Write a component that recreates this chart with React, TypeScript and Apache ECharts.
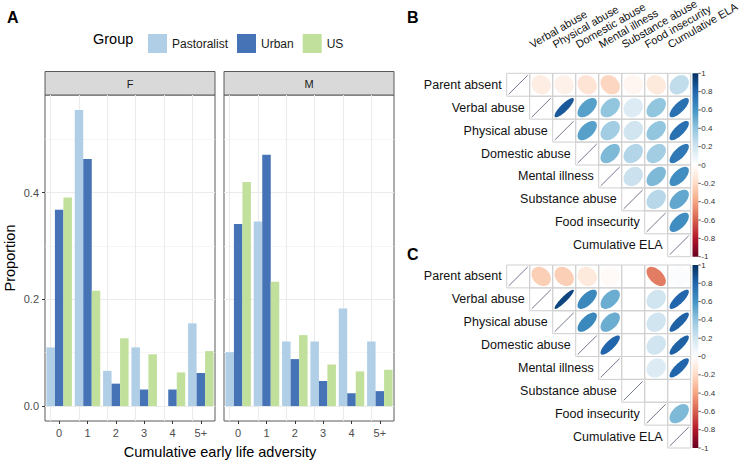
import React, { useEffect, useRef } from 'react';
import * as echarts from 'echarts';

const FONT = '"Liberation Sans", Arial, Helvetica, sans-serif';

// ---------- Panel A data ----------
const categories = ['0', '1', '2', '3', '4', '5+'];
const groups = ['Pastoralist', 'Urban', 'US'];
const groupColors = ['#b0cfe6', '#4673b5', '#c1e09c'];
const femalePastoralist = [0.110, 0.555, 0.066, 0.110, 0.0, 0.155];
const femaleUrban = [0.368, 0.463, 0.042, 0.031, 0.031, 0.062];
const femaleUS = [0.391, 0.216, 0.127, 0.097, 0.063, 0.103];
const malePastoralist = [0.101, 0.346, 0.121, 0.121, 0.183, 0.121];
const maleUrban = [0.341, 0.471, 0.088, 0.047, 0.024, 0.028];
const maleUS = [0.420, 0.233, 0.133, 0.078, 0.065, 0.068];
const yTicks = [0, 0.2, 0.4];
const yMinorTicks = [0.1, 0.3, 0.5];
const facetLabels = ['F', 'M'];

// ---------- Panels B / C data ----------
const variables = [
  'Parent absent', 'Verbal abuse', 'Physical abuse', 'Domestic abuse',
  'Mental illness', 'Substance abuse', 'Food insecurity', 'Cumulative ELA',
];
// upper triangle rows (values right of the diagonal)
const corrB: (number | null)[][] = [
  [-0.10, -0.08, -0.15, -0.22, -0.05, -0.12, 0.25],
  [0.85, 0.55, 0.40, 0.15, 0.40, 0.75],
  [0.55, 0.35, 0.20, 0.40, 0.75],
  [0.45, 0.30, 0.35, 0.72],
  [0.22, 0.45, 0.62],
  [0.28, 0.52],
  [0.62],
];
const corrC: (number | null)[][] = [
  [-0.25, -0.25, -0.12, -0.03, null, -0.52, 0.02],
  [0.92, 0.65, 0.50, null, 0.20, 0.80],
  [0.65, 0.50, null, 0.20, 0.82],
  [0.80, null, 0.20, 0.82],
  [null, 0.15, 0.80],
  [null, null],
  [0.45],
];
const colorbarTicks = [1, 0.8, 0.6, 0.4, 0.2, 0, -0.2, -0.4, -0.6, -0.8, -1];
const rdbu = ['#67001F', '#B2182B', '#D6604D', '#F4A582', '#FDDBC7', '#FFFFFF',
  '#D1E5F0', '#92C5DE', '#4393C3', '#2166AC', '#053061'];

const CORR_LEFT = 506.7;
const CORR_W = 184;
const B_TOP = 73.3;
const B_H = 183.4;
const C_TOP = 265;
const C_H = 183;

function hexToRgb(h: string) {
  const n = parseInt(h.slice(1), 16);
  return [(n >> 16) & 255, (n >> 8) & 255, n & 255];
}
function rdbuColor(v: number) {
  const t = Math.max(0, Math.min(1, (v + 1) / 2)) * (rdbu.length - 1);
  const i = Math.min(Math.floor(t), rdbu.length - 2);
  const f = t - i;
  const a = hexToRgb(rdbu[i]);
  const b = hexToRgb(rdbu[i + 1]);
  const c = a.map((x, k) => Math.round(x + (b[k] - x) * f));
  return `rgb(${c[0]},${c[1]},${c[2]})`;
}

function buildCorrData(rows: (number | null)[][]) {
  const data: number[][] = [];
  for (let r = 0; r < variables.length; r++) {
    data.push([r, r, 0, 0, 1]);
    const vals = rows[r] || [];
    vals.forEach((v, k) => {
      data.push([r + 1 + k, r, v === null ? 0 : v, v === null ? 0 : 1, 0]);
    });
  }
  return data;
}

const renderCorr = (params: any, api: any) => {
  const col = api.value(0);
  const row = api.value(1);
  const v = api.value(2);
  const has = api.value(3);
  const diag = api.value(4);
  const c = api.coord([col, row]);
  const s = api.size([1, 1]);
  const w = s[0];
  const h = s[1];
  const x0 = c[0] - w / 2;
  const y0 = c[1] - h / 2;
  const children: any[] = [];
  children.push({
    type: 'rect',
    shape: { x: x0, y: y0, width: w, height: h },
    style: { fill: 'none', stroke: '#cfcfcf', lineWidth: 1 },
  });
  if (diag) {
    children.push({
      type: 'line',
      shape: { x1: x0 + 2, y1: y0 + h - 2, x2: x0 + w - 2, y2: y0 + 2 },
      style: { stroke: '#4f5670', lineWidth: 0.8 },
    });
    children.push({
      type: 'text',
      x: x0 - 5,
      y: c[1],
      style: {
        text: variables[row], fill: '#111', font: `12.5px ${FONT}`,
        textAlign: 'right', textVerticalAlign: 'middle',
      },
    });
  } else if (has) {
    const d = Math.acos(Math.max(-1, Math.min(1, v)));
    const pts: number[][] = [];
    for (let k = 0; k < 72; k++) {
      const t = (2 * Math.PI * k) / 72;
      const ex = Math.cos(t + d / 2) * 0.42;
      const ey = Math.cos(t - d / 2) * 0.42;
      pts.push([c[0] + ex * w, c[1] - ey * h]);
    }
    children.push({
      type: 'polygon',
      shape: { points: pts },
      style: { fill: rdbuColor(v), stroke: 'none' },
    });
  }
  return { type: 'group', children };
};

function colorbar(top: number, height: number) {
  const x = 692.5;
  const w = 5.8;
  const els: any[] = [];
  els.push({
    type: 'rect',
    shape: { x, y: top, width: w, height },
    style: {
      fill: new echarts.graphic.LinearGradient(0, 0, 0, 1,
        rdbu.slice().reverse().map((col, i) => ({ offset: i / (rdbu.length - 1), color: col }))),
    },
  });
  colorbarTicks.forEach((v) => {
    const y = top + ((1 - v) / 2) * height;
    els.push({
      type: 'line',
      shape: { x1: x + w, y1: y, x2: x + w + 2.5, y2: y },
      style: { stroke: '#333', lineWidth: 0.8 },
    });
    els.push({
      type: 'text',
      x: x + w + 3,
      y,
      style: {
        text: String(v), fill: '#333', font: `8px ${FONT}`,
        textAlign: 'left', textVerticalAlign: 'middle',
      },
    });
  });
  return els;
}

function gridMarkLine() {
  const major = { color: '#ebebeb', width: 1.1, type: 'solid' };
  const minor = { color: '#f2f2f2', width: 0.7, type: 'solid' };
  return {
    silent: true,
    symbol: 'none',
    z: 1,
    animation: false,
    label: { show: false },
    emphasis: { disabled: true },
    data: [
      ...yMinorTicks.map((v) => ({ yAxis: v, lineStyle: minor })),
      ...yTicks.map((v) => ({ yAxis: v, lineStyle: major })),
      ...categories.map((c) => ({ xAxis: c, lineStyle: major })),
    ],
  };
}

export default function App() {
  const ref = useRef<HTMLDivElement>(null);
  useEffect(() => {
    if (!ref.current) return;
    const chart = echarts.init(ref.current, undefined, { renderer: 'svg' });
    const panels = [
      { left: 45, data: [femalePastoralist, femaleUrban, femaleUS] },
      { left: 224, data: [malePastoralist, maleUrban, maleUS] },
    ];
    const panelTop = 95;
    const panelH = 326;
    const panelW = 170;

    const grids: any[] = panels.map((p) => ({
      left: p.left, top: panelTop, width: panelW, height: panelH,
      show: true, borderColor: '#5a5a5a', borderWidth: 1, backgroundColor: '#fff',
    }));
    grids.push({ left: CORR_LEFT, top: B_TOP, width: CORR_W, height: B_H });
    grids.push({ left: CORR_LEFT, top: C_TOP, width: CORR_W, height: C_H });

    const xAxes: any[] = panels.map((_, i) => ({
      type: 'category', gridIndex: i, data: categories, boundaryGap: true,
      position: 'bottom',
      axisLine: { show: false, onZero: false },
      axisTick: { show: true, alignWithLabel: true, length: 3, lineStyle: { color: '#333' } },
      axisLabel: { color: '#4d4d4d', fontSize: 11, margin: 6, fontFamily: FONT },
      splitLine: { show: false },
    }));
    const yAxes: any[] = panels.map((_, i) => ({
      type: 'value', gridIndex: i, min: -0.028, max: 0.583,
      axisLine: { show: false },
      axisTick: { show: i === 0, length: 3, lineStyle: { color: '#333' }, customValues: yTicks },
      axisLabel: {
        show: i === 0, color: '#4d4d4d', fontSize: 11, margin: 6, fontFamily: FONT,
        customValues: yTicks, formatter: (v: number) => v.toFixed(1),
      },
      splitLine: { show: false },
    }));
    [2, 3].forEach((g) => {
      xAxes.push({ type: 'category', gridIndex: g, data: variables, show: false });
      yAxes.push({ type: 'category', gridIndex: g, data: variables, inverse: true, show: false });
    });

    const series: any[] = [];
    panels.forEach((p, pi) => {
      groups.forEach((g, gi) => {
        series.push({
          type: 'bar', name: g, xAxisIndex: pi, yAxisIndex: pi,
          data: p.data[gi], barGap: '0%', barCategoryGap: '10%',
          itemStyle: { color: groupColors[gi] },
          z: 2,
          markLine: gi === 0 ? gridMarkLine() : undefined,
        });
      });
    });
    series.push({
      type: 'custom', name: 'corrB', xAxisIndex: 2, yAxisIndex: 2,
      data: buildCorrData(corrB), renderItem: renderCorr, clip: false, silent: true,
    });
    series.push({
      type: 'custom', name: 'corrC', xAxisIndex: 3, yAxisIndex: 3,
      data: buildCorrData(corrC), renderItem: renderCorr, clip: false, silent: true,
    });

    const graphics: any[] = [
      { type: 'text', x: 7, y: 9, style: { text: 'A', font: `bold 16px ${FONT}`, fill: '#000' } },
      { type: 'text', x: 407, y: 9, style: { text: 'B', font: `bold 16px ${FONT}`, fill: '#000' } },
      { type: 'text', x: 407, y: 246, style: { text: 'C', font: `bold 16px ${FONT}`, fill: '#000' } },
      {
        type: 'text', x: 93, y: 39,
        style: { text: 'Group', font: `14.5px ${FONT}`, fill: '#000', textVerticalAlign: 'middle' },
      },
      {
        type: 'text', x: 10, y: 258, rotation: Math.PI / 2,
        style: { text: 'Proportion', font: `14.5px ${FONT}`, fill: '#000', textAlign: 'center', textVerticalAlign: 'middle' },
      },
      {
        type: 'text', x: 220, y: 452,
        style: { text: 'Cumulative early life adversity', font: `14.5px ${FONT}`, fill: '#000', textAlign: 'center', textVerticalAlign: 'middle' },
      },
    ];
    // rotated column labels of panel B
    const cellW = CORR_W / variables.length;
    variables.forEach((name, j) => {
      if (j === 0) return;
      graphics.push({
        type: 'text',
        x: CORR_LEFT + cellW * (j + 0.5) - 8,
        y: B_TOP - 23.5,
        rotation: (30 * Math.PI) / 180,
        style: {
          text: name, fill: '#111', fontSize: 11, fontFamily: 'Liberation Sans',
          textAlign: 'left', textVerticalAlign: 'bottom',
        },
      });
    });
    panels.forEach((p, i) => {
      graphics.push({
        type: 'rect', shape: { x: p.left, y: 71.5, width: panelW, height: 23.5 },
        style: { fill: '#d9d9d9', stroke: '#5a5a5a', lineWidth: 1 },
      });
      graphics.push({
        type: 'text', x: p.left + panelW / 2, y: 83.5,
        style: { text: facetLabels[i], font: `11px ${FONT}`, fill: '#1a1a1a', textAlign: 'center', textVerticalAlign: 'middle' },
      });
    });
    graphics.push(...colorbar(B_TOP, B_H));
    graphics.push(...colorbar(C_TOP, C_H));

    chart.setOption({
      animation: false,
      textStyle: { fontFamily: FONT },
      legend: {
        data: groups, left: 143, top: 29, itemWidth: 19, itemHeight: 19, itemGap: 9,
        icon: 'rect', selectedMode: false,
        textStyle: { fontSize: 12, color: '#1a1a1a', fontFamily: FONT },
      },
      grid: grids,
      xAxis: xAxes,
      yAxis: yAxes,
      series,
      graphic: { elements: graphics },
    });
    return () => chart.dispose();
  }, []);
  return (
    <div
      ref={ref}
      style={{ position: 'fixed', left: 0, top: 0, width: 752, height: 466, background: '#fff' }}
    />
  );
}
